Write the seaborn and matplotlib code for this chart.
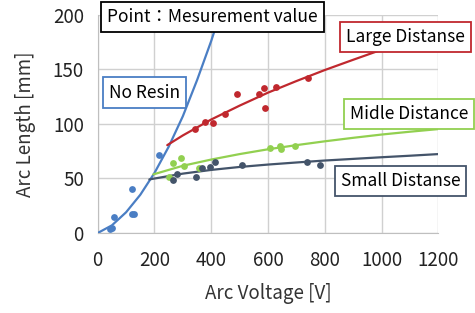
import numpy as np
import pandas as pd
import matplotlib
matplotlib.use("Agg")
import matplotlib.pyplot as plt
import seaborn as sns

# measured points (voltage V, length mm)
noresin_v = [43, 49, 57, 120, 120, 128, 217]
noresin_l = [3.7, 5, 14.4, 40, 17.4, 17.4, 71.6]
large_v = [344, 379, 407, 450, 491, 567, 586, 588, 628, 742]
large_l = [95.2, 101.3, 100.9, 108.6, 126.9, 127.8, 132.4, 114.1, 133.9, 141.6]
middle_v = [250, 266, 293, 304, 357, 607, 643, 645, 695]
middle_l = [51, 63.8, 68.9, 61.6, 59.8, 77.5, 79.6, 76.6, 79.6]
small_v = [267, 278, 346, 369, 396, 413, 510, 736, 783]
small_l = [48.5, 54, 51.5, 59.8, 60.4, 64.7, 62.2, 65.2, 62.2]

# trend lines
noresin_fit_v = [0, 50, 100, 150, 200, 250, 300, 350, 400, 430]
noresin_fit_l = [0, 7, 19, 35, 55, 79, 107, 140, 176, 200]
large_fit_v = [245, 300, 400, 500, 600, 700, 800, 900, 1000, 1100, 1200]
large_fit_l = [80.5, 89.4, 104, 116.7, 128.6, 139.2, 149.3, 158.7, 167.9, 176.1, 184.8]
middle_fit_v = [196, 300, 400, 500, 600, 700, 800, 900, 1000, 1100, 1200]
middle_fit_l = [53.7, 61.6, 67.3, 72.3, 76.7, 80.5, 84, 87.2, 90.2, 92.8, 95.2]
small_fit_v = [182, 300, 400, 500, 600, 700, 800, 900, 1000, 1100, 1200]
small_fit_l = [49.1, 54.4, 57.8, 60.5, 62.7, 64.6, 66.4, 67.9, 69.4, 70.8, 72.3]

c_blue = "#4A7EC4"
c_red = "#C0282E"
c_green = "#92D050"
c_navy = "#44546A"

sns.set_style("white")
plt.rcParams["font.family"] = ["Noto Sans CJK JP", "DejaVu Sans"]

fig = plt.figure(figsize=(4.75, 3.13), dpi=100)
ax = fig.add_axes([0.2057, 0.2556, 0.717, 0.6974])

series = [
    (noresin_v, noresin_l, noresin_fit_v, noresin_fit_l, c_blue),
    (large_v, large_l, large_fit_v, large_fit_l, c_red),
    (middle_v, middle_l, middle_fit_v, middle_fit_l, c_green),
    (small_v, small_l, small_fit_v, small_fit_l, c_navy),
]
for xv, yv, fx, fy, col in series:
    sns.lineplot(x=fx, y=fy, ax=ax, color=col, linewidth=1.6, sort=False,
                 estimator=None, zorder=3)
    sns.scatterplot(x=xv, y=yv, ax=ax, color=col, s=24, linewidth=0, zorder=4)

ax.set_xlim(0, 1200)
ax.set_ylim(0, 200)
ax.set_xticks(range(0, 1201, 200))
ax.set_yticks(range(0, 201, 50))
ax.grid(True, color="#D0D0D0", linewidth=1)
ax.set_axisbelow(True)
for s in ["top", "right"]:
    ax.spines[s].set_visible(False)
for s in ["left", "bottom"]:
    ax.spines[s].set_color("#BFBFBF")
ax.tick_params(axis="both", length=4, color="#BFBFBF", labelsize=13.5,
               labelcolor="#222222", direction="out", pad=6)
ax.tick_params(axis="x", pad=8)
ax.set_xlabel("Arc Voltage [V]", fontsize=13.5, color="#333333", labelpad=9)
ax.set_ylabel("Arc Length [mm]", fontsize=13.5, color="#333333", labelpad=12)

boxes = [
    ("Point：Mesurement value", 404, 198, "black"),
    ("No Resin", 165, 128.7, c_blue),
    ("Large Distanse", 1086, 179.8, c_red),
    ("Midle Distance", 1097, 109.1, c_green),
    ("Small Distanse", 1067, 47.6, c_navy),
]
for txt, bx, by, ec in boxes:
    ax.text(bx, by, txt, ha="center", va="center", fontsize=12.5, color="black",
            zorder=6, clip_on=False,
            bbox=dict(boxstyle="square,pad=0.35", facecolor="white",
                      edgecolor=ec, linewidth=1.3))

fig.savefig("out.png", dpi=100)
